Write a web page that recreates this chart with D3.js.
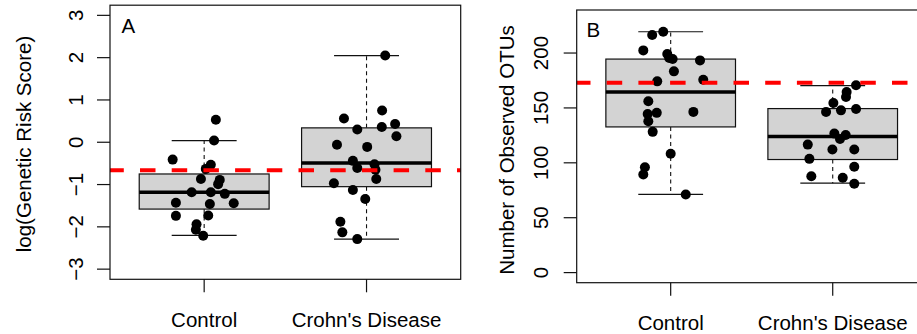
<!DOCTYPE html>
<html>
<head>
<meta charset="utf-8">
<script src="https://cdn.jsdelivr.net/npm/d3@7/dist/d3.min.js"></script>
<style>
  body { margin: 0; background: #fff; }
  svg { display: block; }
  text { font-family: "Liberation Sans", Arial, Helvetica, sans-serif; fill: #000; }
</style>
</head>
<body>
<svg id="chart" width="917" height="334"></svg>
<script>
// ---- data ----
const groups = ["Control", "Crohn's Disease"];

// Panel A: log(Genetic Risk Score)
const riskTicks = [-3, -2, -1, 0, 1, 2, 3];
// [lower whisker, Q1, median, Q3, upper whisker]
const riskBoxControl = [-2.20, -1.58, -1.18, -0.75, 0.04];
const riskBoxCrohns  = [-2.29, -1.05, -0.49, 0.34, 2.05];
const riskControl = [0.53, 0.04, -0.41, -0.53, -0.63, -0.87, -0.89, -0.99, -1.18, -1.18,
                     -1.22, -1.43, -1.46, -1.44, -1.74, -1.73, -1.94, -2.07, -2.21];
const riskControlJitter = [0.072, 0.061, -0.194, 0.041, 0.010, -0.020, 0.096, 0.086, -0.077, 0.041,
                           0.127, -0.174, 0.035, 0.182, -0.174, 0.025, -0.047, -0.051, -0.006];
const riskCrohns = [2.05, 0.56, 0.75, 0.43, 0.30, 0.36, 0.14, -0.06, -0.11, -0.44,
                    -0.52, -0.61, -0.65, -0.87, -0.97, -1.13, -1.34, -1.88, -2.13, -2.29];
const riskCrohnsJitter = [0.115, -0.139, 0.096, 0.176, -0.057, 0.094, 0.184, -0.182, 0.004, -0.084,
                          0.049, -0.057, 0.055, 0.060, -0.201, -0.084, -0.008, -0.161, -0.149, -0.057];
const riskThreshold = -0.66;

// Panel B: Number of Observed OTUs
const otuTicks = [0, 50, 100, 150, 200];
const otuBoxControl = [71.2, 132.7, 164.5, 194.5, 219.4];
const otuBoxCrohns  = [81.5, 103.0, 123.9, 149.4, 170.3];
const otuControl = [219.4, 216.4, 202.4, 199.1, 195.4, 194.5, 193.3, 183.3, 174.2, 175.7,
                    146.4, 156.0, 144.5, 145.5, 137.8, 128.2, 108.2, 96.0, 89.4, 71.2];
const otuControlJitter = [-0.046, -0.114, -0.169, -0.021, -0.009, 0.012, 0.181, 0.020, -0.083, 0.201,
                          0.140, -0.138, -0.142, -0.086, -0.138, -0.111, 0.000, -0.159, -0.169, 0.093];
const otuCrohns = [170.6, 164.5, 160.0, 154.5, 146.4, 147.8, 149.1, 126.6, 125.4, 121.8,
                   116.6, 112.1, 112.1, 103.6, 96.4, 87.8, 86.4, 80.9];
const otuCrohnsJitter = [0.144, 0.086, 0.082, 0.004, -0.041, 0.051, 0.144, 0.010, 0.080, 0.045,
                         -0.154, -0.002, 0.133, -0.144, 0.133, -0.132, 0.062, 0.133];
const otuThreshold = 173;

// ---- panels ----
const panels = [
  {
    tag: "A", ylabel: "log(Genetic Risk Score)",
    left: 110, right: 460.7, top: 5.2, bottom: 279.3,
    yDomain: [-3.24, 3.24], ticks: riskTicks,
    boxes: [riskBoxControl, riskBoxCrohns],
    points: [[riskControl, riskControlJitter], [riskCrohns, riskCrohnsJitter]],
    threshold: riskThreshold,
    tickLabelX: 82.5, titleX: 30.5, titleY: 144, xLabelY: 326.5, tagX: 128.3, tagY: 33.3
  },
  {
    tag: "B", ylabel: "Number of Observed OTUs",
    left: 576.7, right: 926.7, top: 10, bottom: 282.7,
    yDomain: [-9.2, 239.2], ticks: otuTicks,
    boxes: [otuBoxControl, otuBoxCrohns],
    points: [[otuControl, otuControlJitter], [otuCrohns, otuCrohnsJitter]],
    threshold: otuThreshold,
    tickLabelX: 548, titleX: 513.5, titleY: 150, xLabelY: 330, tagX: 593.3, tagY: 36.7
  }
];

const svg = d3.select("#chart");
const FS = 20.5;
const INK = "#111";
const fmt = d => String(d).replace("-", "\u2212");

panels.forEach(p => {
  const g = svg.append("g");
  const x = d3.scaleLinear().domain([0.42, 2.58]).range([p.left, p.right]);
  const y = d3.scaleLinear().domain(p.yDomain).range([p.bottom, p.top]);

  // boxes with whiskers
  p.boxes.forEach((s, i) => {
    const c = i + 1;
    const bx = g.append("g");
    // dashed whisker stems
    bx.append("line")
      .attr("x1", x(c)).attr("x2", x(c)).attr("y1", y(s[3])).attr("y2", y(s[4]))
      .attr("stroke", INK).attr("stroke-width", 1.1).attr("stroke-dasharray", "4,3.5");
    bx.append("line")
      .attr("x1", x(c)).attr("x2", x(c)).attr("y1", y(s[1])).attr("y2", y(s[0]))
      .attr("stroke", INK).attr("stroke-width", 1.1).attr("stroke-dasharray", "4,3.5");
    // whisker caps
    [s[0], s[4]].forEach(v => {
      bx.append("line")
        .attr("x1", x(c - 0.2)).attr("x2", x(c + 0.2)).attr("y1", y(v)).attr("y2", y(v))
        .attr("stroke", INK).attr("stroke-width", 1.2);
    });
    // box
    bx.append("rect")
      .attr("x", x(c - 0.4)).attr("width", x(c + 0.4) - x(c - 0.4))
      .attr("y", y(s[3])).attr("height", y(s[1]) - y(s[3]))
      .attr("fill", "#D3D3D3").attr("stroke", INK).attr("stroke-width", 1.2);
    // median
    bx.append("line")
      .attr("x1", x(c - 0.4)).attr("x2", x(c + 0.4)).attr("y1", y(s[2])).attr("y2", y(s[2]))
      .attr("stroke", "#000").attr("stroke-width", 3.5);
  });

  // jittered points
  p.points.forEach(([vals, jit], i) => {
    g.append("g").selectAll("circle").data(vals).join("circle")
      .attr("cx", (d, k) => x(i + 1 + jit[k]))
      .attr("cy", d => y(d))
      .attr("r", 5)
      .attr("fill", "#000");
  });

  // reference line
  g.append("line")
    .attr("x1", p.left).attr("x2", p.right)
    .attr("y1", y(p.threshold)).attr("y2", y(p.threshold))
    .attr("stroke", "#FF0000").attr("stroke-width", 4)
    .attr("stroke-dasharray", "15.5,16.2").attr("stroke-dashoffset", 1.7);

  // frame
  g.append("rect")
    .attr("x", p.left).attr("y", p.top)
    .attr("width", p.right - p.left).attr("height", p.bottom - p.top)
    .attr("fill", "none").attr("stroke", INK).attr("stroke-width", 1.2);

  // y axis ticks and labels
  p.ticks.forEach(t => {
    g.append("line")
      .attr("x1", p.left - 13).attr("x2", p.left).attr("y1", y(t)).attr("y2", y(t))
      .attr("stroke", INK).attr("stroke-width", 1.2);
    g.append("text")
      .attr("transform", `translate(${p.tickLabelX},${y(t)}) rotate(-90)`)
      .attr("text-anchor", "middle").attr("font-size", FS)
      .text(fmt(t));
  });

  // x axis ticks and labels
  groups.forEach((name, i) => {
    g.append("line")
      .attr("x1", x(i + 1)).attr("x2", x(i + 1)).attr("y1", p.bottom).attr("y2", p.bottom + 13)
      .attr("stroke", INK).attr("stroke-width", 1.2);
    g.append("text")
      .attr("x", x(i + 1)).attr("y", p.xLabelY)
      .attr("text-anchor", "middle").attr("font-size", FS)
      .text(name);
  });

  // axis title
  g.append("text")
    .attr("transform", `translate(${p.titleX},${p.titleY}) rotate(-90)`)
    .attr("text-anchor", "middle").attr("font-size", FS)
    .text(p.ylabel);

  // panel tag
  g.append("text")
    .attr("x", p.tagX).attr("y", p.tagY)
    .attr("text-anchor", "middle").attr("font-size", FS)
    .text(p.tag);
});
</script>
</body>
</html>
